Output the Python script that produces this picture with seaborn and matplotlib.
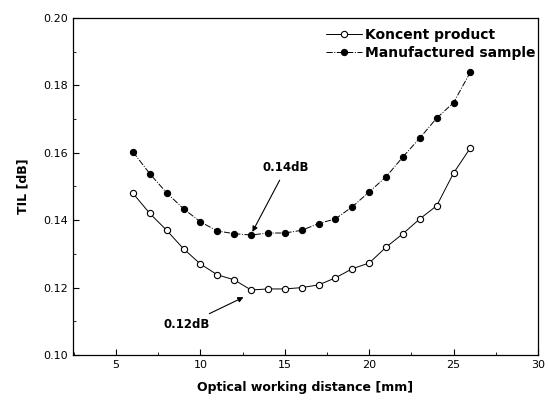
import numpy as np
import pandas as pd
import matplotlib
matplotlib.use("Agg")
import matplotlib.pyplot as plt
from matplotlib.ticker import MultipleLocator, FormatStrFormatter
import seaborn as sns

distance = [6, 7, 8, 9, 10, 11, 12, 13, 14, 15, 16, 17, 18, 19, 20, 21, 22, 23, 24, 25, 26]
koncent = [0.148, 0.142, 0.137, 0.1315, 0.127, 0.1238, 0.1223, 0.1193, 0.1196, 0.1196, 0.120,
           0.1208, 0.1229, 0.1256, 0.1273, 0.132, 0.136, 0.1404, 0.1443, 0.154, 0.1615]
manufactured = [0.1603, 0.1538, 0.1481, 0.1434, 0.1395, 0.1368, 0.136, 0.1356, 0.1362, 0.1362, 0.137,
                0.139, 0.1404, 0.144, 0.1484, 0.1529, 0.1588, 0.1644, 0.1703, 0.1749, 0.184]
series_names = ["Koncent product", "Manufactured sample"]

sns.set_theme(style="white")
plt.rcParams['font.family'] = ['DejaVu Sans']
plt.rcParams['text.color'] = 'black'
plt.rcParams['axes.labelcolor'] = 'black'

fig = plt.figure(figsize=(5.48, 4.04), dpi=100)
ax = fig.add_axes([73/548, 1-355/404, (538-73)/548, (355-18)/404])

df = pd.DataFrame({"x": distance, "y": koncent})
sns.lineplot(data=df, x="x", y="y", ax=ax, color="black", lw=0.7,
             marker="o", markersize=4.5, markerfacecolor="white", markeredgecolor="black",
             markeredgewidth=0.8, label=series_names[0])
df2 = pd.DataFrame({"x": distance, "y": manufactured})
sns.lineplot(data=df2, x="x", y="y", ax=ax, color="black", lw=0.7, linestyle="-.",
             marker="o", markersize=4.5, markerfacecolor="black", markeredgecolor="black",
             label=series_names[1])

ax.set_xlim(2.45, 30)
ax.set_ylim(0.10, 0.20)
ax.xaxis.set_major_locator(MultipleLocator(5))
ax.xaxis.set_minor_locator(MultipleLocator(2.5))
ax.yaxis.set_major_locator(MultipleLocator(0.02))
ax.yaxis.set_minor_locator(MultipleLocator(0.01))
ax.yaxis.set_major_formatter(FormatStrFormatter("%.2f"))
ax.tick_params(axis="both", which="both", direction="in", left=True, bottom=True,
               labelsize=8, colors="black")
ax.tick_params(which="major", length=4, width=0.8)
ax.tick_params(which="minor", length=2, width=0.6)
for s in ax.spines.values():
    s.set_color("black")
    s.set_linewidth(0.9)

ax.set_xlabel("Optical working distance [mm]", fontsize=9, fontweight="bold", labelpad=8)
ax.set_ylabel("TIL [dB]", fontsize=9, fontweight="bold", labelpad=10)

ax.annotate("0.14dB", xy=(13, 0.1358), xytext=(13.7, 0.1555),
            fontsize=8.5, fontweight="bold", ha="left", va="center",
            arrowprops=dict(arrowstyle="-|>", color="black", lw=0.8, mutation_scale=8,
                            shrinkA=2, shrinkB=2))
ax.annotate("0.12dB", xy=(12.7, 0.1175), xytext=(7.8, 0.1090),
            fontsize=8.5, fontweight="bold", ha="left", va="center",
            arrowprops=dict(arrowstyle="-|>", color="black", lw=0.8, mutation_scale=8,
                            shrinkA=2, shrinkB=2))

leg = ax.legend(loc="upper right", bbox_to_anchor=(1.015, 1.0), frameon=False,
                prop={"weight": "bold", "size": 10},
                handlelength=2.6, borderaxespad=0.3, labelspacing=0.3, handletextpad=0.2)
for t in leg.get_texts():
    t.set_color("black")

fig.savefig("out.png", dpi=100)
